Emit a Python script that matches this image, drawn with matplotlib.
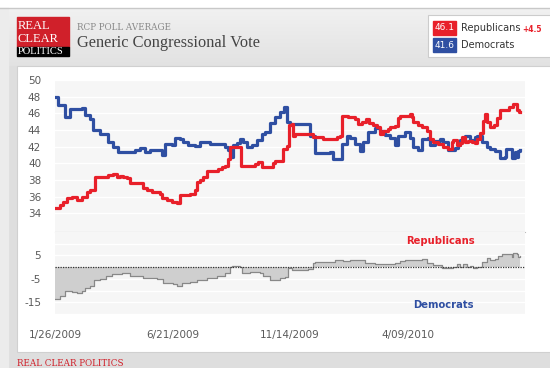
import matplotlib.pyplot as plt
import numpy as np
import pandas as pd

# data (days after 1/26/2009)
start = pd.Timestamp('2009-01-26')

dem_days = [0, 4, 12, 19, 34, 37, 43, 47, 56, 66, 72, 78, 87, 99, 106, 112, 118, 128, 133, 137,
            145, 149, 155, 159, 165, 174, 180, 186, 193, 211, 215, 217, 221, 226, 230, 234, 239,
            245, 251, 257, 261, 267, 273, 280, 284, 288, 292, 314, 317, 323, 342, 345, 357, 363,
            366, 373, 379, 383, 389, 398, 404, 410, 416, 422, 426, 435, 441, 445, 451, 456, 463,
            466, 472, 478, 482, 488, 497, 501, 503, 509, 516, 522, 524, 530, 537, 540, 547, 553,
            559, 561, 568, 571, 574, 575, 578]
dem_vals = [48.0, 47.0, 45.5, 46.5, 46.6, 45.8, 45.3, 44.0, 43.5, 42.5, 42.0, 41.4, 41.4, 41.6,
            41.8, 41.3, 41.6, 41.6, 41.0, 42.3, 42.2, 43.0, 42.9, 42.5, 42.2, 42.1, 42.5, 42.6,
            42.3, 42.0, 41.6, 40.8, 42.2, 42.4, 42.9, 42.5, 42.0, 42.2, 42.8, 43.5, 43.7, 44.8,
            45.5, 46.1, 46.7, 44.9, 44.7, 44.7, 43.3, 41.2, 41.3, 40.5, 42.3, 43.3, 43.0, 42.3,
            41.5, 42.5, 43.7, 44.2, 43.9, 43.4, 43.0, 42.2, 43.3, 43.7, 43.0, 41.9, 41.6, 42.9,
            43.0, 42.2, 42.7, 42.9, 42.5, 41.6, 41.8, 42.2, 42.8, 43.3, 42.8, 43.2, 43.3, 42.5,
            42.0, 41.7, 41.5, 40.6, 40.7, 41.7, 40.6, 41.3, 40.8, 41.5, 41.6]

rep_days = [0, 6, 10, 15, 21, 27, 34, 40, 43, 50, 56, 62, 66, 72, 77, 81, 84, 89, 93, 106, 109,
            114, 120, 127, 130, 133, 139, 145, 152, 155, 168, 174, 176, 180, 184, 189, 202, 207,
            211, 215, 217, 230, 231, 248, 252, 257, 267, 271, 273, 283, 288, 291, 294, 296, 298,
            319, 320, 332, 333, 348, 350, 354, 357, 364, 373, 376, 381, 386, 390, 395, 400, 404,
            407, 414, 416, 422, 426, 429, 437, 441, 443, 445, 451, 456, 462, 466, 470, 476, 482,
            488, 493, 494, 499, 503, 506, 509, 513, 518, 522, 525, 528, 532, 534, 537, 540, 545,
            549, 553, 561, 564, 569, 574, 576, 578]
rep_vals = [34.6, 35.0, 35.4, 35.8, 35.9, 35.6, 36.0, 36.5, 36.8, 38.3, 38.3, 38.4, 38.6, 38.7,
            38.4, 38.5, 38.4, 38.2, 37.6, 37.6, 37.0, 36.8, 36.6, 36.5, 36.3, 35.8, 35.6, 35.3,
            35.2, 36.2, 36.3, 36.8, 37.7, 38.0, 38.3, 39.1, 39.3, 39.6, 39.7, 40.5, 41.9, 41.9,
            39.7, 39.9, 40.2, 39.5, 39.6, 40.0, 40.3, 41.7, 42.1, 44.6, 44.7, 43.3, 43.5, 43.5,
            43.1, 43.1, 42.9, 42.9, 43.1, 43.3, 45.7, 45.6, 45.3, 44.7, 45.0, 45.3, 44.8, 44.6,
            44.3, 43.5, 43.9, 44.1, 44.3, 44.5, 45.4, 45.7, 45.7, 45.9, 45.6, 44.9, 44.6, 44.3,
            43.9, 42.9, 42.5, 42.3, 41.9, 41.7, 42.5, 42.8, 42.2, 42.4, 43.2, 42.5, 42.7, 42.5,
            42.4, 42.9, 43.6, 45.1, 45.9, 45.0, 44.3, 44.6, 45.4, 46.4, 46.4, 46.7, 47.1, 46.4,
            46.1, 46.1]

spread_days = [0, 6, 12, 21, 27, 34, 37, 43, 48, 56, 63, 71, 83, 93, 109, 127, 134, 147, 152, 158,
               168, 176, 189, 201, 211, 217, 220, 230, 232, 242, 255, 258, 267, 280, 286, 289, 294,
               314, 320, 323, 344, 348, 358, 366, 379, 385, 398, 410, 422, 429, 435, 441, 456, 462,
               470, 481, 487, 494, 499, 503, 507, 512, 516, 519, 525, 530, 537, 540, 547, 550, 555,
               563, 568, 569, 574, 575, 578]
spread_vals = [-13.6, -12.2, -10.1, -10.5, -10.9, -10.2, -8.8, -8.1, -5.5, -5.3, -3.8, -3.0, -2.7,
               -3.7, -4.5, -5.1, -6.6, -7.2, -7.9, -6.9, -6.4, -5.5, -4.5, -4.0, -2.7, 0.2, 0.5,
               0.0, -2.4, -2.3, -2.4, -4.0, -5.5, -4.8, -4.1, -0.6, -1.2, -1.0, 1.6, 2.0, 2.0, 3.0,
               2.6, 3.0, 3.1, 1.9, 1.4, 1.1, 1.6, 2.6, 2.8, 3.1, 3.3, 1.6, 0.8, -0.3, -0.6, -0.1,
               1.1, 0.2, 1.1, -0.1, 0.5, -0.3, 0.0, 2.3, 3.7, 3.0, 3.3, 4.7, 5.7, 5.7, 4.3, 6.0,
               5.7, 4.3, 4.5]

tick_dates = ['2009-01-26', '2009-06-21', '2009-11-14', '2010-04-09']
tick_labels = ['1/26/2009', '6/21/2009', '11/14/2009', '4/09/2010']
main_ticks = [34, 36, 38, 40, 42, 44, 46, 48, 50]
spread_ticks = [5, -5, -15]

red = '#e8202a'
blue = '#2f4fa2'

dem_x = start + pd.to_timedelta(dem_days, unit='D')
rep_x = start + pd.to_timedelta(rep_days, unit='D')
spr_x = start + pd.to_timedelta(spread_days, unit='D')
xlim = (start, start + pd.Timedelta(days=584))

fig = plt.figure(figsize=(5.5, 3.68), dpi=100)

# page decoration in pixel units
bg = fig.add_axes([0, 0, 1, 1])
bg.set_xlim(0, 550)
bg.set_ylim(368, 0)
bg.axis('off')
grad = np.linspace(0, 1, 100).reshape(-1, 1)
bg.imshow(grad, extent=(0, 550, 66, 8), cmap=plt.cm.colors.LinearSegmentedColormap.from_list(
    'g', ['#f1f1f1', '#e2e2e2']), aspect='auto', zorder=0)
bg.add_patch(plt.Rectangle((0, 0), 550, 8, color='white', zorder=1))
bg.add_patch(plt.Rectangle((0, 66), 550, 302, color='#dedede', zorder=1))
bg.add_patch(plt.Rectangle((0, 8), 8, 360, color='#ececec', zorder=1))
bg.plot([0, 550], [8, 8], color='#c8c8c8', lw=1, zorder=2)
bg.add_patch(plt.Rectangle((17, 66), 540, 286, facecolor='white', edgecolor='#d0d0d0', lw=0.8, zorder=2))

# logo
bg.add_patch(plt.Rectangle((17, 17), 52, 30, color='#d0202a', zorder=3))
bg.add_patch(plt.Rectangle((17, 47), 52, 9, color='black', zorder=3))
bg.text(18, 26, 'REAL', color='white', fontsize=9, family='Liberation Serif', va='center', zorder=4)
bg.text(18, 39, 'CLEAR', color='white', fontsize=9, family='Liberation Serif', va='center', zorder=4)
bg.text(18, 52, 'POLITICS', color='white', fontsize=7.6, family='Liberation Serif', va='center', zorder=4)

bg.text(77, 28, 'RCP POLL AVERAGE', color='#888888', fontsize=6.3, family='DejaVu Serif', va='center', zorder=4)
bg.text(77, 43, 'Generic Congressional Vote', color='#444444', fontsize=11.8, family='Liberation Serif',
        va='center', zorder=4)

# legend box
bg.add_patch(plt.Rectangle((428, 15), 130, 42, facecolor='white', edgecolor='#cccccc', lw=0.8, zorder=3))
bg.add_patch(plt.Rectangle((433, 21), 23, 14, color=red, zorder=4))
bg.add_patch(plt.Rectangle((433, 38), 23, 14, color=blue, zorder=4))
bg.text(444.5, 28, '46.1', color='white', fontsize=6.5, ha='center', va='center', zorder=5)
bg.text(444.5, 45, '41.6', color='white', fontsize=6.5, ha='center', va='center', zorder=5)
bg.text(461, 28, 'Republicans', color='#333333', fontsize=7, va='center', zorder=5)
bg.text(522, 29, '+4.5', color=red, fontsize=5.5, fontweight='bold', va='center', zorder=5)
bg.text(461, 45, 'Democrats', color='#333333', fontsize=7, va='center', zorder=5)

bg.text(17, 363, 'REAL CLEAR POLITICS', color='#d0202a', fontsize=6.3, family='DejaVu Serif',
        va='center', zorder=5)

# main chart
ax = fig.add_axes([0.1, 1 - 232 / 368, 0.8545, 152 / 368])
ax.set_facecolor('#f6f6f6')
ax.plot(dem_x, dem_vals, color=blue, lw=2.3, drawstyle='steps-post')
ax.plot(rep_x, rep_vals, color=red, lw=2.3, drawstyle='steps-post')
ax.set_xlim(xlim)
ax.set_ylim(31.75, 49.9)
ax.set_yticks(main_ticks)
ax.set_yticklabels([str(t) for t in main_ticks])
ax.grid(axis='y', color='white', lw=1)
ax.set_axisbelow(True)
ax.set_xticks([])
ax.tick_params(axis='y', length=0, pad=10, labelsize=7.5, labelcolor='#5a5a5a')
for s in ax.spines.values():
    s.set_visible(False)
ax.spines['bottom'].set_visible(True)
ax.spines['bottom'].set_color('#bbbbbb')

# spread chart
ax2 = fig.add_axes([0.1, 1 - 315 / 368, 0.8545, 83 / 368])
ax2.set_facecolor('#f6f6f6')
ax2.fill_between(spr_x, spread_vals, 0, step='post', color='#cfcfcf', lw=0)
ax2.plot(spr_x, spread_vals, color='#888888', lw=0.9, drawstyle='steps-post')
ax2.axhline(0, color='#333333', lw=0.9, ls=(0, (1, 1)))
ax2.set_xlim(xlim)
ax2.set_ylim(-20.4, 14.9)
ax2.set_yticks([10, 5, 0, -5, -10, -15, -20], minor=True)
ax2.set_yticks(spread_ticks)
ax2.set_yticklabels([str(t) for t in spread_ticks])
ax2.grid(axis='y', which='both', color='white', lw=1)
ax2.set_axisbelow(True)
ax2.set_xticks(pd.to_datetime(tick_dates))
ax2.set_xticklabels(tick_labels)
ax2.tick_params(axis='both', which='both', length=0, labelsize=7.5, labelcolor='#5a5a5a')
ax2.tick_params(axis='y', pad=10)
ax2.tick_params(axis='x', pad=11)
for s in ax2.spines.values():
    s.set_visible(False)
ax2.text(0.82, 0.89, 'Republicans', transform=ax2.transAxes, color=red, fontsize=7.2,
         fontweight='bold', ha='center', va='center')
ax2.text(0.827, 0.12, 'Democrats', transform=ax2.transAxes, color=blue, fontsize=7.2,
         fontweight='bold', ha='center', va='center')

fig.savefig('out.png', dpi=100)
